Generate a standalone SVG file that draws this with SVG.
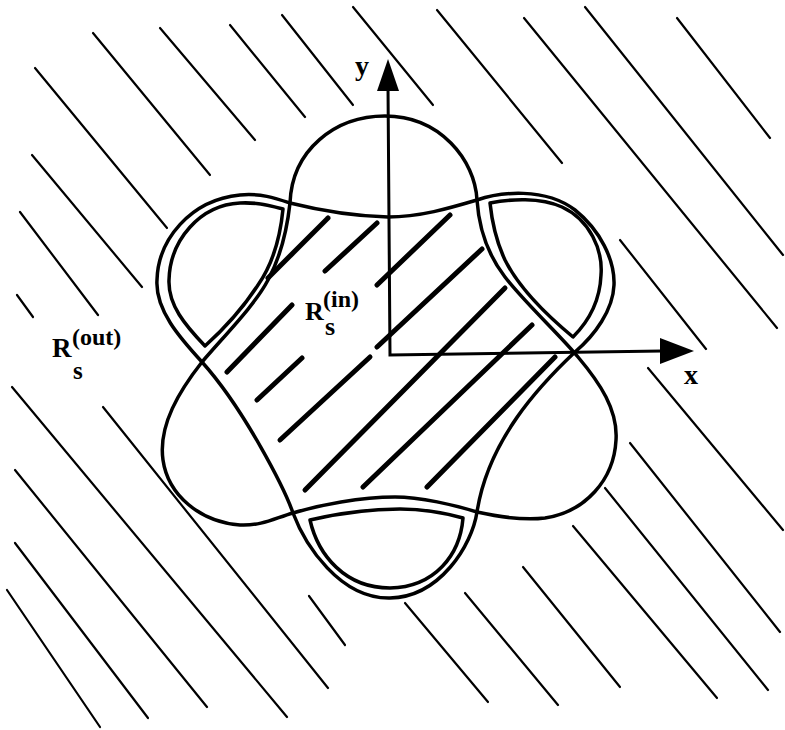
<svg xmlns="http://www.w3.org/2000/svg" width="785" height="730" viewBox="0 0 785 730">
<style>
.o{fill:none;stroke:#000;stroke-width:3.5;stroke-linejoin:round}
.h line{stroke:#000;stroke-width:2.2;stroke-linecap:round}
.ih line{stroke:#000;stroke-width:5;stroke-linecap:round}
.ax{fill:none;stroke:#000;stroke-width:3}
.t{font-family:"Liberation Serif","DejaVu Serif",serif;font-weight:bold;fill:#000}
</style>
<rect width="785" height="730" fill="#fff"/>
<g id="outer-hatching" class="h">
<line x1="35" y1="68" x2="167" y2="228"/>
<line x1="93" y1="33" x2="210" y2="175"/>
<line x1="160" y1="28" x2="255" y2="140"/>
<line x1="230" y1="25" x2="305" y2="117"/>
<line x1="282" y1="15" x2="353" y2="105"/>
<line x1="353" y1="7" x2="433" y2="105"/>
<line x1="32" y1="155" x2="142" y2="287"/>
<line x1="20" y1="212" x2="98" y2="315"/>
<line x1="17" y1="295" x2="33" y2="317"/>
<line x1="437" y1="10" x2="562" y2="163"/>
<line x1="524" y1="18" x2="777" y2="328"/>
<line x1="585" y1="7" x2="783" y2="255"/>
<line x1="677" y1="18" x2="770" y2="138"/>
<line x1="620" y1="240" x2="706" y2="349"/>
<line x1="12" y1="387" x2="287" y2="717"/>
<line x1="103" y1="407" x2="328" y2="688"/>
<line x1="15" y1="470" x2="207" y2="707"/>
<line x1="15" y1="543" x2="148" y2="718"/>
<line x1="7" y1="590" x2="100" y2="727"/>
<line x1="309" y1="596" x2="345" y2="645"/>
<line x1="405" y1="603" x2="488" y2="702"/>
<line x1="465" y1="593" x2="558" y2="705"/>
<line x1="523" y1="567" x2="620" y2="687"/>
<line x1="573" y1="526" x2="717" y2="698"/>
<line x1="605" y1="488" x2="768" y2="690"/>
<line x1="630" y1="443" x2="780" y2="632"/>
<line x1="648" y1="368" x2="783" y2="530"/>
</g>
<g id="inner-hatching" class="ih">
<line x1="268" y1="278" x2="328" y2="218"/>
<line x1="325" y1="271" x2="377" y2="223"/>
<line x1="227" y1="372" x2="292" y2="305"/>
<line x1="377" y1="285" x2="450" y2="215"/>
<line x1="257" y1="400" x2="302" y2="358"/>
<line x1="280" y1="440" x2="370" y2="357"/>
<line x1="377" y1="347" x2="482" y2="249"/>
<line x1="305" y1="490" x2="505" y2="288"/>
<line x1="363" y1="487" x2="532" y2="325"/>
<line x1="427" y1="487" x2="555" y2="357"/>
</g>
<g id="shape-a">
<path class="o" d="M 290 203 C 292 150, 335 116, 385 116 C 440 116, 475 160, 477 200 C 479 230, 488 255, 505 277 C 525 303, 560 335, 578 357 C 600 383, 618 410, 616 440 C 614 480, 585 512, 545 518 C 520 521, 495 516, 477 512 C 455 505, 420 497, 395 497 C 360 497, 320 505, 293 513 C 275 518, 262 526, 240 525 C 200 522, 168 495, 163 460 C 158 425, 180 390, 202 362 C 225 335, 255 305, 268 280 C 280 258, 287 230, 290 203 Z"/>
</g>
<g id="shape-b">
<path class="o" d="M 290 203 C 310 208, 350 216, 388 217 C 420 217, 450 208, 477 200 C 500 192, 545 187, 575 210 C 600 230, 615 260, 614 285 C 613 310, 595 335, 575 352 C 540 385, 488 440, 477 512 C 472 545, 440 597, 390 598 C 340 599, 305 545, 293 513 C 285 490, 245 410, 202 362 C 180 338, 155 310, 157 280 C 158 240, 190 200, 240 195 C 260 193, 275 198, 290 203 Z"/>
</g>
<g id="lobe-upper-left">
<path class="o" d="M 283 209 C 272 206, 258 202, 240 203 C 200 205, 170 240, 169 280 C 168 305, 185 325, 205 346 C 225 328, 245 305, 258 285 C 272 265, 280 240, 283 209 Z"/>
</g>
<g id="lobe-upper-right">
<path class="o" d="M 490 203 C 510 199, 540 197, 562 207 C 590 220, 603 250, 601 275 C 600 300, 590 320, 573 337 C 550 318, 520 290, 505 260 C 497 243, 492 222, 490 203 Z"/>
</g>
<g id="lobe-bottom">
<path class="o" d="M 310 520 C 340 513, 370 509, 400 509 C 425 509, 445 513, 463 518 C 460 555, 435 587, 390 588 C 345 588, 318 555, 310 520 Z"/>
</g>
<g id="axes">
<polyline class="ax" points="388,86 390,355 662,351"/>
<polygon points="388,59 377,91 399,91" fill="#000"/>
<polygon points="694,351 660,338 660,364" fill="#000"/>
<text class="t" x="355" y="75" font-size="28">y</text>
<text class="t" x="684" y="384" font-size="28">x</text>
</g>
<g id="label-in">
<text class="t" x="305" y="320" font-size="26">R</text>
<text class="t" x="323" y="307" font-size="24">(in)</text>
<text class="t" x="325" y="335" font-size="26">s</text>
</g>
<g id="label-out">
<text class="t" x="52" y="357" font-size="27">R</text>
<text class="t" x="72" y="345" font-size="24">(out)</text>
<text class="t" x="73" y="379" font-size="25">s</text>
</g>
</svg>
